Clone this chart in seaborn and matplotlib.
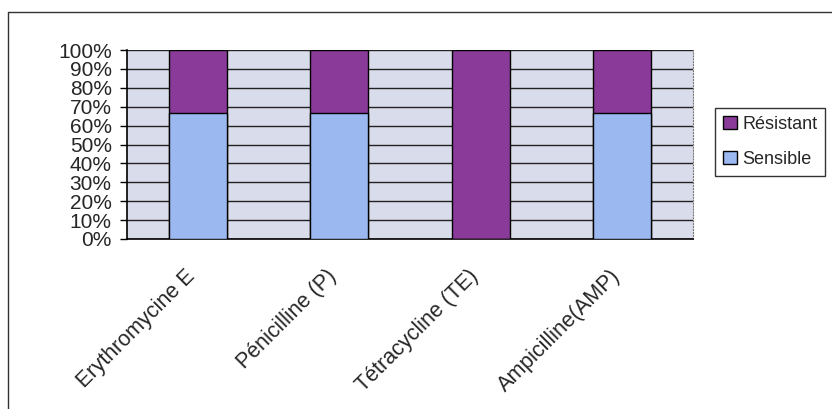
import pandas as pd
import numpy as np
import seaborn as sns
import matplotlib.pyplot as plt
from matplotlib.patches import Patch
from matplotlib.lines import Line2D
from matplotlib.transforms import ScaledTranslation

# donnees (pourcentages)
antibiotiques = ["Erythromycine E", "Pénicilline (P)", "Tétracycline (TE)", "Ampicilline(AMP)"]
sensible = [66.7, 66.7, 0.0, 66.7]
resistant = [33.3, 33.3, 100.0, 33.3]

df = pd.DataFrame({"antibiotique": antibiotiques,
                   "Sensible": sensible,
                   "Résistant": resistant})
df["total"] = df["Sensible"] + df["Résistant"]

sns.set_style("white")
plt.rcParams["font.family"] = ["Liberation Sans", "DejaVu Sans"]

c_res = "#8a3a98"
c_sens = "#9bb9f0"
c_fond = "#d9dcea"

fig = plt.figure(figsize=(8.32, 4.09), dpi=100)
ax = fig.add_axes([127 / 832, 1 - 239 / 409, 566 / 832, 189 / 409])
ax.set_facecolor(c_fond)

# empilement : total en violet, puis sensible en bleu par-dessus
sns.barplot(data=df, x="antibiotique", y="total", color=c_res, width=0.41,
            edgecolor="black", linewidth=1, saturation=1, ax=ax, zorder=3)
sns.barplot(data=df, x="antibiotique", y="Sensible", color=c_sens, width=0.41,
            edgecolor="black", linewidth=1, saturation=1, ax=ax, zorder=4)

ax.set_xlim(-0.5, 3.5)
ax.set_ylim(0, 100)
ax.set_yticks(np.arange(0, 101, 10))
ax.set_yticklabels([f"{v}%" for v in range(0, 101, 10)], fontsize=15)
ax.yaxis.grid(True, color="#222222", linewidth=1)
ax.set_axisbelow(True)
for gl in ax.get_ygridlines():
    gl.set_zorder(1)

ax.set_xlabel("")
ax.set_ylabel("")
ax.set_xticks(range(len(antibiotiques)))
ax.set_xticklabels(antibiotiques, rotation=45, ha="right", va="top",
                   rotation_mode="anchor", fontsize=15.5)
ax.tick_params(axis="x", length=0, pad=14)
decal = ScaledTranslation(-13 / 100, -7 / 100, fig.dpi_scale_trans)
for lab in ax.get_xticklabels():
    lab.set_transform(lab.get_transform() + decal)
ax.set_xticks(np.arange(-0.5, 3.6, 1), minor=True)
ax.tick_params(axis="x", which="minor", length=5, width=1, color="black", direction="out")
ax.tick_params(axis="y", length=5, width=1, color="black", direction="out", pad=6, left=True)

for s in ["left", "bottom"]:
    ax.spines[s].set_color("black")
    ax.spines[s].set_linewidth(1.2)
ax.spines["top"].set_visible(False)
ax.spines["right"].set_color("#777777")
ax.spines["right"].set_linestyle(":")

# legende (Resistant en haut)
poignees = [Patch(facecolor=c_res, edgecolor="black", label="Résistant"),
            Patch(facecolor=c_sens, edgecolor="black", label="Sensible")]
fig.legend(handles=poignees, loc="upper left", bbox_to_anchor=(715 / 832, 1 - 108 / 409),
           frameon=True, fancybox=False, edgecolor="black", fontsize=13,
           handlelength=0.75, handleheight=0.75, handletextpad=0.3,
           borderpad=0.45, labelspacing=1.0, borderaxespad=0)

# cadre exterieur
fig.add_artist(Line2D([8 / 832, 1], [1 - 12 / 409, 1 - 12 / 409], color="#333333", lw=1))
fig.add_artist(Line2D([8 / 832, 8 / 832], [0, 1 - 12 / 409], color="#333333", lw=1))

fig.savefig("out.png", dpi=100, facecolor="white")
